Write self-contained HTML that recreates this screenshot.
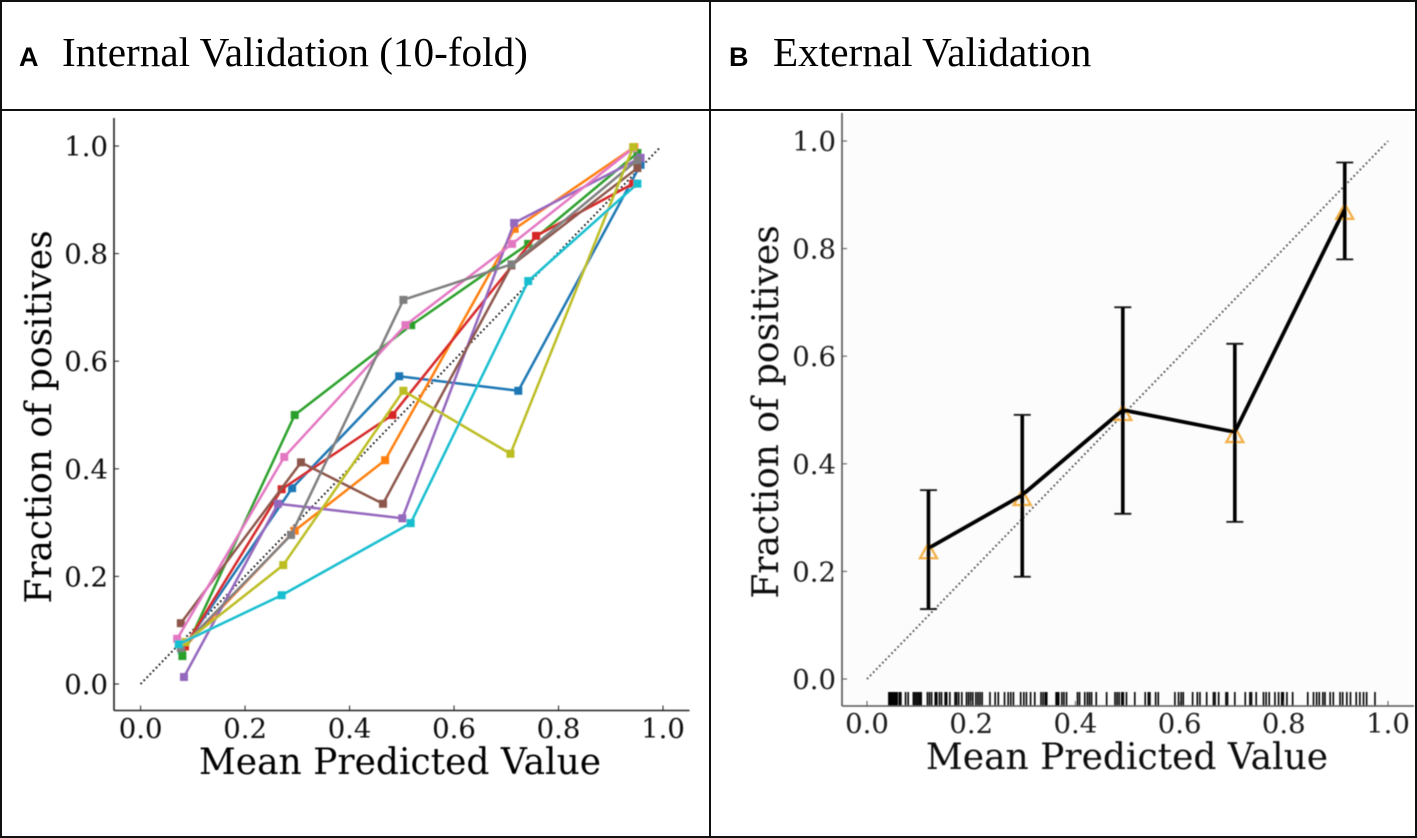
<!DOCTYPE html>
<html lang="en">
<head>
<meta charset="utf-8">
<title>Calibration curves</title>
<style>
html,body{margin:0;padding:0;background:#fff;width:1417px;height:838px;overflow:hidden}
svg{display:block}
.tick{font-family:"DejaVu Serif","Liberation Serif",serif;font-size:27.5px}
.axis-title{font-family:"DejaVu Serif","Liberation Serif",serif;font-size:36px}
.panel-title{font-family:"Liberation Serif",serif;font-size:41.2px;fill:#000}
.panel-letter{font-family:"Liberation Sans",sans-serif;font-size:27px;font-weight:bold;fill:#000}
</style>
</head>
<body>
<svg id="figure" xmlns="http://www.w3.org/2000/svg" width="1417" height="838" viewBox="0 0 1417 838">
  <defs>
    <filter id="soft" x="-5%" y="-5%" width="110%" height="110%"><feGaussianBlur stdDeviation="0.5"/></filter>
  </defs>
  <rect x="0" y="0" width="1417" height="838" fill="#fff"/>

  <rect x="842" y="113" width="572" height="593" fill="#fcfcfc"/>

  <g id="panelA" filter="url(#soft)">
    <text class="axis-title" x="400" y="774" text-anchor="middle" fill="#000">Mean Predicted Value</text>
    <text class="axis-title" transform="translate(51 417) rotate(-90)" text-anchor="middle" fill="#000">Fraction of positives</text>
  </g>
  <g id="panelB" filter="url(#soft)">
    <text class="axis-title" x="1127" y="769" text-anchor="middle" fill="#111">Mean Predicted Value</text>
    <text class="axis-title" transform="translate(778 412) rotate(-90)" text-anchor="middle" fill="#111">Fraction of positives</text>
  </g>

  <text class="panel-letter" x="19" y="66">A</text>
  <text class="panel-title" x="62" y="66">Internal Validation (10-fold)</text>
  <text class="panel-letter" x="729" y="66">B</text>
  <text class="panel-title" x="773" y="66">External Validation</text>

  <rect x="1" y="1" width="1415" height="836" fill="none" stroke="#111" stroke-width="2"/>
  <line x1="0" y1="110" x2="1417" y2="110" stroke="#111" stroke-width="2"/>
  <line x1="710" y1="0" x2="710" y2="838" stroke="#111" stroke-width="2"/>
</svg>

<script>
// Shared axis ticks
const tickValues = [0, 0.2, 0.4, 0.6, 0.8, 1.0];
const tickLabels = ['0.0', '0.2', '0.4', '0.6', '0.8', '1.0'];

// Panel A: ten folds, mean predicted value per bin
const foldNames = ['fold-1', 'fold-2', 'fold-3', 'fold-4', 'fold-5', 'fold-6', 'fold-7', 'fold-8', 'fold-9', 'fold-10'];
const fold1Pred = [0.079, 0.290, 0.495, 0.723, 0.957];
const fold1Frac = [0.063, 0.364, 0.572, 0.545, 0.965];
const fold2Pred = [0.085, 0.295, 0.468, 0.716, 0.945];
const fold2Frac = [0.070, 0.285, 0.416, 0.846, 0.998];
const fold3Pred = [0.080, 0.295, 0.518, 0.742, 0.951];
const fold3Frac = [0.052, 0.500, 0.667, 0.818, 0.987];
const fold4Pred = [0.085, 0.270, 0.482, 0.757, 0.943];
const fold4Frac = [0.070, 0.362, 0.500, 0.833, 0.930];
const fold5Pred = [0.083, 0.263, 0.501, 0.715, 0.957];
const fold5Frac = [0.013, 0.335, 0.308, 0.857, 0.978];
const fold6Pred = [0.077, 0.307, 0.464, 0.710, 0.951];
const fold6Frac = [0.113, 0.412, 0.335, 0.778, 0.959];
const fold7Pred = [0.070, 0.275, 0.507, 0.711, 0.943];
const fold7Frac = [0.084, 0.422, 0.667, 0.818, 0.996];
const fold8Pred = [0.077, 0.288, 0.503, 0.710, 0.951];
const fold8Frac = [0.067, 0.277, 0.714, 0.780, 0.974];
const fold9Pred = [0.086, 0.273, 0.503, 0.708, 0.943];
const fold9Frac = [0.078, 0.221, 0.545, 0.428, 0.998];
const fold10Pred = [0.073, 0.270, 0.517, 0.742, 0.951];
const fold10Frac = [0.074, 0.165, 0.299, 0.749, 0.930];
const foldPred = [fold1Pred, fold2Pred, fold3Pred, fold4Pred, fold5Pred, fold6Pred, fold7Pred, fold8Pred, fold9Pred, fold10Pred];
const foldFrac = [fold1Frac, fold2Frac, fold3Frac, fold4Frac, fold5Frac, fold6Frac, fold7Frac, fold8Frac, fold9Frac, fold10Frac];

// Panel B: external validation bins with confidence intervals
const extPred = [0.118, 0.298, 0.491, 0.706, 0.917];
const extFrac = [0.243, 0.342, 0.500, 0.459, 0.874];
const extLow = [0.130, 0.190, 0.307, 0.292, 0.780];
const extHigh = [0.351, 0.491, 0.691, 0.623, 0.960];

// Panel B: rug of individual predicted values
const rugValues = [
  0.042, 0.044, 0.046, 0.048, 0.050, 0.052, 0.054, 0.056, 0.058, 0.062, 0.065, 0.074, 0.079,
  0.089, 0.092, 0.095, 0.098, 0.101, 0.104, 0.116, 0.120, 0.124, 0.131, 0.134, 0.139, 0.143,
  0.150, 0.153, 0.159, 0.169, 0.172, 0.176, 0.182, 0.191, 0.195, 0.199, 0.203, 0.209, 0.213,
  0.217, 0.221, 0.236, 0.246, 0.252, 0.264, 0.271, 0.276, 0.281, 0.295, 0.301, 0.306, 0.314,
  0.322, 0.334, 0.338, 0.342, 0.345, 0.363, 0.365, 0.368, 0.374, 0.378, 0.383, 0.404, 0.408,
  0.418, 0.423, 0.427, 0.431, 0.440, 0.460, 0.476, 0.480, 0.484, 0.489, 0.492, 0.498, 0.514,
  0.534, 0.540, 0.543, 0.554, 0.559, 0.591, 0.598, 0.603, 0.607, 0.625, 0.634, 0.639, 0.652,
  0.665, 0.668, 0.675, 0.689, 0.692, 0.706, 0.726, 0.735, 0.738, 0.747, 0.761, 0.766, 0.772,
  0.783, 0.790, 0.796, 0.799, 0.806, 0.817, 0.846, 0.857, 0.863, 0.868, 0.875, 0.879, 0.889,
  0.895, 0.908, 0.913, 0.921, 0.928, 0.939, 0.946, 0.953, 0.959, 0.975
];

const foldColors = ['#1f77b4', '#ff7f0e', '#2ca02c', '#d62728', '#9467bd', '#8c564b', '#e377c2', '#7f7f7f', '#bcbd22', '#17becf'];

// Axis functions
function xA(v) { return 140.6 + v * 522.4; }
function yA(v) { return 684 - v * 538; }
function xB(v) { return 867 + v * 521; }
function yB(v) { return 679 - v * 538; }

const NS = 'http://www.w3.org/2000/svg';
function mk(parent, tag, attrs, text) {
  const el = document.createElementNS(NS, tag);
  for (const k in attrs) el.setAttribute(k, attrs[k]);
  if (text !== undefined) el.textContent = text;
  parent.appendChild(el);
  return el;
}

function drawAxes(group, prefix, x, y, left, right, top, bottom, color, labelColor, labelY, labelRight) {
  const spineL = mk(group, 'line', { x1: left, y1: top, x2: left, y2: bottom, stroke: color, 'stroke-width': 1.6 });
  
  
  const spineB = mk(group, 'line', { x1: left, y1: bottom, x2: right, y2: bottom, stroke: color, 'stroke-width': 1.6 });
  
  
  tickValues.forEach(function (v, i) {
    const tx = mk(group, 'line', { x1: x(v), y1: bottom, x2: x(v), y2: bottom - 5, stroke: color, 'stroke-width': 1 });
    
    
    const lx = mk(group, 'text', { class: 'tick', x: x(v), y: labelY, 'text-anchor': 'middle', fill: labelColor }, tickLabels[i]);
    
    
    const ty = mk(group, 'line', { x1: left, y1: y(v), x2: left + 5, y2: y(v), stroke: color, 'stroke-width': 1 });
    
    
    const ly = mk(group, 'text', { class: 'tick', x: labelRight, y: y(v) + 10, 'text-anchor': 'end', fill: labelColor }, tickLabels[i]);
    
    
  });
}

// Panel A
const panelA = document.getElementById('panelA');
drawAxes(panelA, 'panel-a', xA, yA, 114, 689.5, 118, 710.5, '#222', '#0a0a0a', 738, 108);

const diagA = mk(panelA, 'line', { x1: xA(0), y1: yA(0), x2: xA(0.995), y2: yA(0.998), stroke: '#000', 'stroke-width': 1.9, 'stroke-dasharray': '1.6 2.8' });



foldPred.forEach(function (pred, s) {
  const frac = foldFrac[s];
  const g = mk(panelA, 'g', {});
  
  
  const pts = pred.map(function (p, i) { return xA(p) + ',' + yA(frac[i]); }).join(' ');
  const line = mk(g, 'polyline', { points: pts, fill: 'none', stroke: foldColors[s], 'stroke-width': 2.5, 'stroke-linejoin': 'round' });
  
  
  pred.forEach(function (p, i) {
    const m = mk(g, 'rect', { x: xA(p) - 4, y: yA(frac[i]) - 4, width: 8, height: 8, fill: foldColors[s] });
    
    
  });
});

// Panel B
const panelB = document.getElementById('panelB');

rugValues.forEach(function (v) {
  const r = mk(panelB, 'line', { x1: xB(v), y1: 692, x2: xB(v), y2: 706, stroke: '#000', 'stroke-width': 1.6 });
  
  
});

drawAxes(panelB, 'panel-b', xB, yB, 842, 1414, 113, 706, '#555', '#1a1a1a', 733, 836);

const diagB = mk(panelB, 'line', { x1: xB(0), y1: yB(0), x2: xB(1), y2: yB(1), stroke: '#444', 'stroke-width': 1.9, 'stroke-dasharray': '1.6 2.8' });



extPred.forEach(function (p, i) {
  const cx = xB(p);
  const cy = yB(extFrac[i]);
  const tri = mk(panelB, 'polygon', { points: (cx) + ',' + (cy - 5) + ' ' + (cx + 8.5) + ',' + (cy + 10) + ' ' + (cx - 8.5) + ',' + (cy + 10), fill: 'none', stroke: '#f2b04a', 'stroke-width': 2.3 });
  
  
});

extPred.forEach(function (p, i) {
  const cx = xB(p);
  const bar = mk(panelB, 'line', { x1: cx, y1: yB(extLow[i]), x2: cx, y2: yB(extHigh[i]), stroke: '#000', 'stroke-width': 3.6 });
  
  
  const capLow = mk(panelB, 'line', { x1: cx - 8.5, y1: yB(extLow[i]), x2: cx + 8.5, y2: yB(extLow[i]), stroke: '#111', 'stroke-width': 1.8 });
  
  
  const capHigh = mk(panelB, 'line', { x1: cx - 8.5, y1: yB(extHigh[i]), x2: cx + 8.5, y2: yB(extHigh[i]), stroke: '#111', 'stroke-width': 1.8 });
  
  
});

const extPts = extPred.map(function (p, i) { return xB(p) + ',' + yB(extFrac[i]); }).join(' ');
const extLine = mk(panelB, 'polyline', { points: extPts, fill: 'none', stroke: '#000', 'stroke-width': 3.8, 'stroke-linejoin': 'round' });


</script>
</body>
</html>
